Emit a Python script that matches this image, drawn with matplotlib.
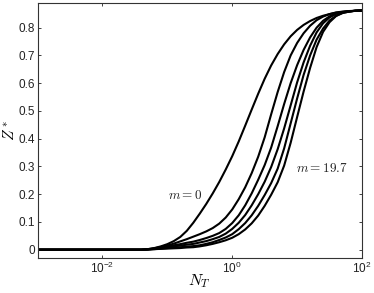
import numpy as np
import matplotlib
matplotlib.use("Agg")
from matplotlib import pyplot as plt

plt.rcParams['font.family'] = ['Liberation Sans', 'DejaVu Sans']
plt.rcParams['mathtext.fontset'] = 'cm'

# log10(N_T) sample points
log_nt = [-3.0, -1.4, -1.3, -1.2, -1.1, -1.0, -0.9, -0.8, -0.7, -0.6, -0.5, -0.4, -0.3,
          -0.2, -0.1, 0.0, 0.1, 0.2, 0.3, 0.4, 0.5, 0.6, 0.7, 0.8, 0.9, 1.0,
          1.1, 1.2, 1.3, 1.4, 1.5, 1.6, 1.7, 1.8, 1.9, 2.0]

# Z* of each curve at those points (m = 0 ... m = 19.7)
z_m0 = [0, 0, 0.002, 0.006, 0.012, 0.020, 0.031, 0.046, 0.068, 0.097, 0.130, 0.165, 0.203,
        0.244, 0.289, 0.337, 0.390, 0.447, 0.505, 0.562, 0.616, 0.664, 0.705, 0.740, 0.769, 0.792,
        0.810, 0.824, 0.835, 0.843, 0.849, 0.854, 0.857, 0.859, 0.861, 0.862]
z_c2 = [0, 0, 0.002, 0.005, 0.010, 0.015, 0.022, 0.030, 0.038, 0.047, 0.056, 0.066, 0.078,
        0.094, 0.116, 0.145, 0.182, 0.225, 0.276, 0.335, 0.405, 0.488, 0.568, 0.640, 0.700, 0.745,
        0.780, 0.807, 0.827, 0.840, 0.849, 0.855, 0.858, 0.860, 0.861, 0.862]
z_c3 = [0, 0, 0.001, 0.004, 0.008, 0.012, 0.016, 0.020, 0.025, 0.029, 0.035, 0.042, 0.050,
        0.060, 0.075, 0.096, 0.124, 0.160, 0.203, 0.252, 0.305, 0.368, 0.445, 0.525, 0.600, 0.665,
        0.720, 0.765, 0.800, 0.825, 0.841, 0.851, 0.856, 0.859, 0.861, 0.862]
z_c4 = [0, 0, 0.001, 0.003, 0.006, 0.009, 0.012, 0.015, 0.018, 0.021, 0.026, 0.031, 0.038,
        0.046, 0.058, 0.075, 0.097, 0.125, 0.160, 0.200, 0.245, 0.298, 0.362, 0.437, 0.520, 0.603,
        0.675, 0.735, 0.783, 0.816, 0.837, 0.850, 0.856, 0.859, 0.861, 0.862]
z_c5 = [0, 0, 0.001, 0.002, 0.004, 0.006, 0.008, 0.009, 0.011, 0.013, 0.016, 0.021, 0.027,
        0.035, 0.044, 0.056, 0.074, 0.096, 0.124, 0.158, 0.197, 0.240, 0.292, 0.365, 0.455, 0.545,
        0.630, 0.700, 0.757, 0.797, 0.826, 0.843, 0.853, 0.858, 0.861, 0.862]
z_m197 = [0, 0, 0.001, 0.002, 0.003, 0.004, 0.005, 0.006, 0.008, 0.009, 0.012, 0.016, 0.021,
          0.027, 0.034, 0.043, 0.056, 0.073, 0.095, 0.123, 0.158, 0.198, 0.243, 0.303, 0.385, 0.478,
          0.570, 0.655, 0.730, 0.785, 0.820, 0.842, 0.853, 0.858, 0.861, 0.862]

curves = [z_m0, z_c2, z_c3, z_c4, z_c5, z_m197]

y_ticks = [0, 0.1, 0.2, 0.3, 0.4, 0.5, 0.6, 0.7, 0.8]
y_ticklabels = ['0', '0.1', '0.2', '0.3', '0.4', '0.5', '0.6', '0.7', '0.8']
x_ticks = [1e-2, 1e0, 1e2]

nt = 10.0 ** np.array(log_nt)

fig = plt.figure(figsize=(3.74, 2.93), dpi=100)
ax = fig.add_axes([0.1003, 0.1184, 0.8677, 0.8714])

for z in curves:
    ax.plot(nt, z, color='black', lw=1.5, solid_joinstyle='round')

ax.set_xscale('log')
ax.set_xlim(1e-3, 1e2)
ax.set_ylim(-0.031, 0.889)
ax.set_xticks(x_ticks)
ax.minorticks_off()
ax.set_yticks(y_ticks)
ax.set_yticklabels(y_ticklabels)
ax.tick_params(direction='in', length=2.5, width=0.6, labelsize=8.5,
               top=True, right=True, pad=2, colors='#222222')
for s in ax.spines.values():
    s.set_linewidth(0.8)
    s.set_color('#333333')

ax.set_xlabel('$N_T$', fontsize=11.5)
ax.set_ylabel('$Z^*$', fontsize=11)
ax.xaxis.set_label_coords(0.5, -0.055)
ax.yaxis.set_label_coords(-0.062, 0.5)

ax.text(0.187, 0.197, '$m = 0$', fontsize=9.5, ha='center', va='center', color='#222222')
ax.text(24.4, 0.293, '$m = 19.7$', fontsize=9.5, ha='center', va='center', color='#222222')

fig.savefig('out.png', dpi=100)
